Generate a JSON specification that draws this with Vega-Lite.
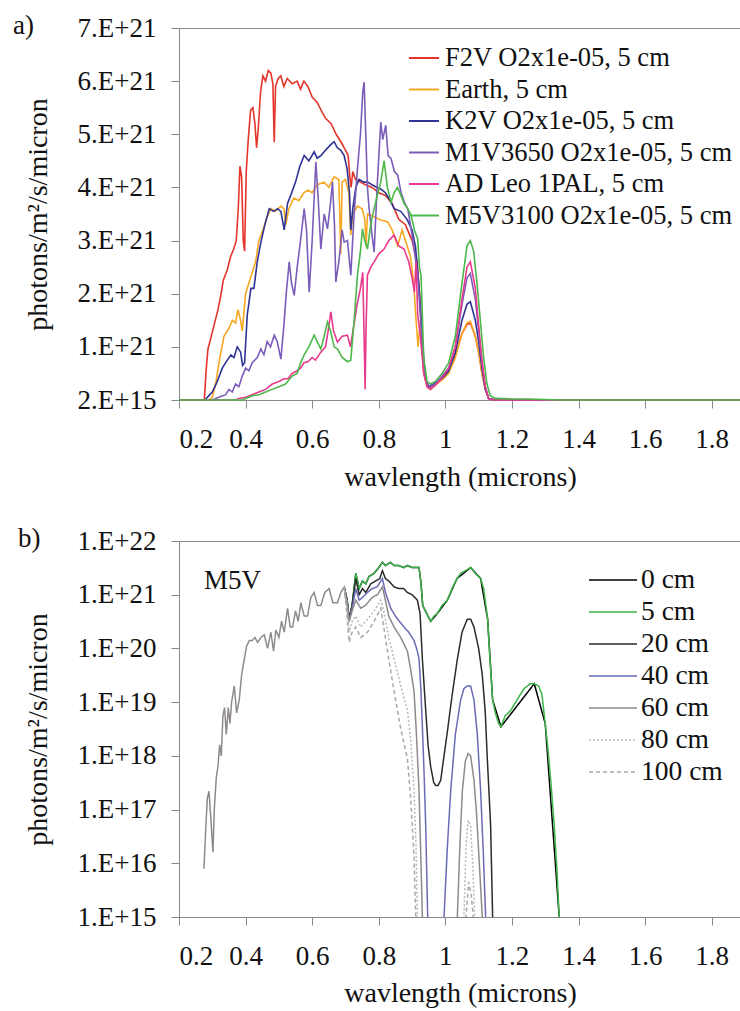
{
"$schema": "https://vega.github.io/schema/vega-lite/v6.json",
"padding": {"left": 12, "top": 11, "right": 0, "bottom": 0},
"config": {
 "font": "Times New Roman, Liberation Serif, DejaVu Serif, serif",
 "view": {"stroke": "#888888"},
 "axis": {"domainColor": "#888888", "tickColor": "#888888", "tickSize": 8, "labelFont": "Times New Roman, Liberation Serif, DejaVu Serif, serif", "titleFont": "Times New Roman, Liberation Serif, DejaVu Serif, serif", "labelFontSize": 27, "titleFontSize": 28, "titleFontWeight": "normal", "labelColor": "#111111", "titleColor": "#111111", "grid": false},
 "legend": {"labelFont": "Times New Roman, Liberation Serif, DejaVu Serif, serif", "titleFont": "Times New Roman, Liberation Serif, DejaVu Serif, serif", "labelColor": "#111111", "padding": 0, "labelLimit": 500},
 "title": {"font": "Times New Roman, Liberation Serif, DejaVu Serif, serif", "fontSize": 27, "fontWeight": "normal", "anchor": "start", "frame": "group", "color": "#111111"},
 "text": {"font": "Times New Roman, Liberation Serif, DejaVu Serif, serif"}
},
"spacing": 32,
"resolve": {"scale": {"color": "independent", "strokeDash": "independent"}, "legend": {"color": "independent", "strokeDash": "independent"}},
"datasets": {
"a": [
{"star":"F2V O2x1e-05, 5 cm","wl":0.2,"flux":0},{"star":"F2V O2x1e-05, 5 cm","wl":0.276,"flux":0},{"star":"F2V O2x1e-05, 5 cm","wl":0.278,"flux":0.2e21},{"star":"F2V O2x1e-05, 5 cm","wl":0.282,"flux":0.6e21},{"star":"F2V O2x1e-05, 5 cm","wl":0.287,"flux":0.96e21},{"star":"F2V O2x1e-05, 5 cm","wl":0.295,"flux":1.15e21},{"star":"F2V O2x1e-05, 5 cm","wl":0.305,"flux":1.4e21},{"star":"F2V O2x1e-05, 5 cm","wl":0.317,"flux":1.7e21},{"star":"F2V O2x1e-05, 5 cm","wl":0.325,"flux":1.95e21},{"star":"F2V O2x1e-05, 5 cm","wl":0.333,"flux":2.25e21},{"star":"F2V O2x1e-05, 5 cm","wl":0.345,"flux":2.45e21},{"star":"F2V O2x1e-05, 5 cm","wl":0.355,"flux":2.7e21},{"star":"F2V O2x1e-05, 5 cm","wl":0.365,"flux":2.85e21},{"star":"F2V O2x1e-05, 5 cm","wl":0.372,"flux":3.0e21},{"star":"F2V O2x1e-05, 5 cm","wl":0.378,"flux":3.6e21},{"star":"F2V O2x1e-05, 5 cm","wl":0.383,"flux":4.4e21},{"star":"F2V O2x1e-05, 5 cm","wl":0.388,"flux":4.2e21},{"star":"F2V O2x1e-05, 5 cm","wl":0.393,"flux":3.0e21},{"star":"F2V O2x1e-05, 5 cm","wl":0.397,"flux":2.8e21},{"star":"F2V O2x1e-05, 5 cm","wl":0.402,"flux":4.3e21},{"star":"F2V O2x1e-05, 5 cm","wl":0.408,"flux":4.9e21},{"star":"F2V O2x1e-05, 5 cm","wl":0.415,"flux":5.45e21},{"star":"F2V O2x1e-05, 5 cm","wl":0.422,"flux":5.5e21},{"star":"F2V O2x1e-05, 5 cm","wl":0.428,"flux":5.2e21},{"star":"F2V O2x1e-05, 5 cm","wl":0.433,"flux":4.75e21},{"star":"F2V O2x1e-05, 5 cm","wl":0.438,"flux":5.1e21},{"star":"F2V O2x1e-05, 5 cm","wl":0.445,"flux":5.8e21},{"star":"F2V O2x1e-05, 5 cm","wl":0.452,"flux":6.1e21},{"star":"F2V O2x1e-05, 5 cm","wl":0.46,"flux":6.0e21},{"star":"F2V O2x1e-05, 5 cm","wl":0.468,"flux":6.2e21},{"star":"F2V O2x1e-05, 5 cm","wl":0.476,"flux":6.15e21},{"star":"F2V O2x1e-05, 5 cm","wl":0.482,"flux":5.95e21},{"star":"F2V O2x1e-05, 5 cm","wl":0.486,"flux":4.85e21},{"star":"F2V O2x1e-05, 5 cm","wl":0.49,"flux":5.9e21},{"star":"F2V O2x1e-05, 5 cm","wl":0.498,"flux":6.05e21},{"star":"F2V O2x1e-05, 5 cm","wl":0.506,"flux":6.1e21},{"star":"F2V O2x1e-05, 5 cm","wl":0.515,"flux":5.9e21},{"star":"F2V O2x1e-05, 5 cm","wl":0.525,"flux":6.05e21},{"star":"F2V O2x1e-05, 5 cm","wl":0.54,"flux":5.95e21},{"star":"F2V O2x1e-05, 5 cm","wl":0.555,"flux":6.0e21},{"star":"F2V O2x1e-05, 5 cm","wl":0.565,"flux":5.85e21},{"star":"F2V O2x1e-05, 5 cm","wl":0.575,"flux":6.0e21},{"star":"F2V O2x1e-05, 5 cm","wl":0.587,"flux":5.9e21},{"star":"F2V O2x1e-05, 5 cm","wl":0.6,"flux":5.7e21},{"star":"F2V O2x1e-05, 5 cm","wl":0.615,"flux":5.6e21},{"star":"F2V O2x1e-05, 5 cm","wl":0.627,"flux":5.45e21},{"star":"F2V O2x1e-05, 5 cm","wl":0.64,"flux":5.3e21},{"star":"F2V O2x1e-05, 5 cm","wl":0.657,"flux":5.2e21},{"star":"F2V O2x1e-05, 5 cm","wl":0.672,"flux":5.0e21},{"star":"F2V O2x1e-05, 5 cm","wl":0.687,"flux":4.85e21},{"star":"F2V O2x1e-05, 5 cm","wl":0.7,"flux":4.7e21},{"star":"F2V O2x1e-05, 5 cm","wl":0.708,"flux":4.6e21},{"star":"F2V O2x1e-05, 5 cm","wl":0.713,"flux":4.2e21},{"star":"F2V O2x1e-05, 5 cm","wl":0.717,"flux":4.0e21},{"star":"F2V O2x1e-05, 5 cm","wl":0.722,"flux":4.3e21},{"star":"F2V O2x1e-05, 5 cm","wl":0.73,"flux":4.15e21},{"star":"F2V O2x1e-05, 5 cm","wl":0.745,"flux":4.1e21},{"star":"F2V O2x1e-05, 5 cm","wl":0.76,"flux":4.05e21},{"star":"F2V O2x1e-05, 5 cm","wl":0.78,"flux":4.0e21},{"star":"F2V O2x1e-05, 5 cm","wl":0.8,"flux":3.9e21},{"star":"F2V O2x1e-05, 5 cm","wl":0.82,"flux":3.85e21},{"star":"F2V O2x1e-05, 5 cm","wl":0.84,"flux":3.7e21},{"star":"F2V O2x1e-05, 5 cm","wl":0.86,"flux":3.4e21},{"star":"F2V O2x1e-05, 5 cm","wl":0.88,"flux":3.3e21},{"star":"F2V O2x1e-05, 5 cm","wl":0.9,"flux":3.0e21},{"star":"F2V O2x1e-05, 5 cm","wl":0.915,"flux":2.6e21},{"star":"F2V O2x1e-05, 5 cm","wl":0.925,"flux":1.8e21},{"star":"F2V O2x1e-05, 5 cm","wl":0.935,"flux":0.6e21},{"star":"F2V O2x1e-05, 5 cm","wl":0.945,"flux":0.3e21},{"star":"F2V O2x1e-05, 5 cm","wl":0.955,"flux":0.22e21},{"star":"F2V O2x1e-05, 5 cm","wl":0.97,"flux":0.3e21},{"star":"F2V O2x1e-05, 5 cm","wl":0.99,"flux":0.4e21},{"star":"F2V O2x1e-05, 5 cm","wl":1.01,"flux":0.55e21},{"star":"F2V O2x1e-05, 5 cm","wl":1.03,"flux":0.85e21},{"star":"F2V O2x1e-05, 5 cm","wl":1.05,"flux":1.25e21},{"star":"F2V O2x1e-05, 5 cm","wl":1.065,"flux":1.42e21},{"star":"F2V O2x1e-05, 5 cm","wl":1.075,"flux":1.45e21},{"star":"F2V O2x1e-05, 5 cm","wl":1.09,"flux":1.2e21},{"star":"F2V O2x1e-05, 5 cm","wl":1.1,"flux":0.9e21},{"star":"F2V O2x1e-05, 5 cm","wl":1.11,"flux":0.5e21},{"star":"F2V O2x1e-05, 5 cm","wl":1.12,"flux":0.2e21},{"star":"F2V O2x1e-05, 5 cm","wl":1.13,"flux":0.03e21},{"star":"F2V O2x1e-05, 5 cm","wl":1.15,"flux":0},{"star":"F2V O2x1e-05, 5 cm","wl":1.888,"flux":0},
{"star":"Earth, 5 cm","wl":0.2,"flux":0},{"star":"Earth, 5 cm","wl":0.29,"flux":0},{"star":"Earth, 5 cm","wl":0.3,"flux":0.05e21},{"star":"Earth, 5 cm","wl":0.31,"flux":0.3e21},{"star":"Earth, 5 cm","wl":0.32,"flux":0.7e21},{"star":"Earth, 5 cm","wl":0.335,"flux":1.2e21},{"star":"Earth, 5 cm","wl":0.35,"flux":1.35e21},{"star":"Earth, 5 cm","wl":0.36,"flux":1.5e21},{"star":"Earth, 5 cm","wl":0.37,"flux":1.45e21},{"star":"Earth, 5 cm","wl":0.377,"flux":1.7e21},{"star":"Earth, 5 cm","wl":0.385,"flux":1.5e21},{"star":"Earth, 5 cm","wl":0.39,"flux":1.3e21},{"star":"Earth, 5 cm","wl":0.4,"flux":2.0e21},{"star":"Earth, 5 cm","wl":0.41,"flux":2.2e21},{"star":"Earth, 5 cm","wl":0.42,"flux":2.4e21},{"star":"Earth, 5 cm","wl":0.43,"flux":2.6e21},{"star":"Earth, 5 cm","wl":0.44,"flux":3.0e21},{"star":"Earth, 5 cm","wl":0.452,"flux":3.2e21},{"star":"Earth, 5 cm","wl":0.465,"flux":3.45e21},{"star":"Earth, 5 cm","wl":0.476,"flux":3.6e21},{"star":"Earth, 5 cm","wl":0.49,"flux":3.55e21},{"star":"Earth, 5 cm","wl":0.506,"flux":3.65e21},{"star":"Earth, 5 cm","wl":0.515,"flux":3.6e21},{"star":"Earth, 5 cm","wl":0.521,"flux":3.3e21},{"star":"Earth, 5 cm","wl":0.53,"flux":3.6e21},{"star":"Earth, 5 cm","wl":0.545,"flux":3.8e21},{"star":"Earth, 5 cm","wl":0.56,"flux":3.75e21},{"star":"Earth, 5 cm","wl":0.575,"flux":3.9e21},{"star":"Earth, 5 cm","wl":0.587,"flux":3.95e21},{"star":"Earth, 5 cm","wl":0.6,"flux":3.9e21},{"star":"Earth, 5 cm","wl":0.615,"flux":4.05e21},{"star":"Earth, 5 cm","wl":0.636,"flux":4.1e21},{"star":"Earth, 5 cm","wl":0.65,"flux":4.0e21},{"star":"Earth, 5 cm","wl":0.666,"flux":4.2e21},{"star":"Earth, 5 cm","wl":0.68,"flux":4.15e21},{"star":"Earth, 5 cm","wl":0.686,"flux":2.75e21},{"star":"Earth, 5 cm","wl":0.69,"flux":4.1e21},{"star":"Earth, 5 cm","wl":0.7,"flux":4.15e21},{"star":"Earth, 5 cm","wl":0.71,"flux":3.9e21},{"star":"Earth, 5 cm","wl":0.716,"flux":3.1e21},{"star":"Earth, 5 cm","wl":0.722,"flux":3.5e21},{"star":"Earth, 5 cm","wl":0.736,"flux":3.65e21},{"star":"Earth, 5 cm","wl":0.75,"flux":3.6e21},{"star":"Earth, 5 cm","wl":0.758,"flux":3.4e21},{"star":"Earth, 5 cm","wl":0.762,"flux":2.9e21},{"star":"Earth, 5 cm","wl":0.766,"flux":3.5e21},{"star":"Earth, 5 cm","wl":0.786,"flux":3.45e21},{"star":"Earth, 5 cm","wl":0.8,"flux":3.4e21},{"star":"Earth, 5 cm","wl":0.827,"flux":3.35e21},{"star":"Earth, 5 cm","wl":0.84,"flux":3.2e21},{"star":"Earth, 5 cm","wl":0.857,"flux":2.9e21},{"star":"Earth, 5 cm","wl":0.87,"flux":3.2e21},{"star":"Earth, 5 cm","wl":0.88,"flux":3.0e21},{"star":"Earth, 5 cm","wl":0.895,"flux":2.7e21},{"star":"Earth, 5 cm","wl":0.905,"flux":2.2e21},{"star":"Earth, 5 cm","wl":0.912,"flux":1.5e21},{"star":"Earth, 5 cm","wl":0.918,"flux":1.0e21},{"star":"Earth, 5 cm","wl":0.925,"flux":1.5e21},{"star":"Earth, 5 cm","wl":0.935,"flux":0.5e21},{"star":"Earth, 5 cm","wl":0.945,"flux":0.25e21},{"star":"Earth, 5 cm","wl":0.955,"flux":0.2e21},{"star":"Earth, 5 cm","wl":0.97,"flux":0.28e21},{"star":"Earth, 5 cm","wl":0.99,"flux":0.38e21},{"star":"Earth, 5 cm","wl":1.01,"flux":0.5e21},{"star":"Earth, 5 cm","wl":1.03,"flux":0.8e21},{"star":"Earth, 5 cm","wl":1.05,"flux":1.25e21},{"star":"Earth, 5 cm","wl":1.065,"flux":1.45e21},{"star":"Earth, 5 cm","wl":1.075,"flux":1.48e21},{"star":"Earth, 5 cm","wl":1.09,"flux":1.2e21},{"star":"Earth, 5 cm","wl":1.1,"flux":0.9e21},{"star":"Earth, 5 cm","wl":1.11,"flux":0.5e21},{"star":"Earth, 5 cm","wl":1.12,"flux":0.2e21},{"star":"Earth, 5 cm","wl":1.13,"flux":0.03e21},{"star":"Earth, 5 cm","wl":1.15,"flux":0},{"star":"Earth, 5 cm","wl":1.888,"flux":0},
{"star":"K2V O2x1e-05, 5 cm","wl":0.2,"flux":0},{"star":"K2V O2x1e-05, 5 cm","wl":0.278,"flux":0},{"star":"K2V O2x1e-05, 5 cm","wl":0.285,"flux":0.05e21},{"star":"K2V O2x1e-05, 5 cm","wl":0.3,"flux":0.15e21},{"star":"K2V O2x1e-05, 5 cm","wl":0.315,"flux":0.35e21},{"star":"K2V O2x1e-05, 5 cm","wl":0.33,"flux":0.6e21},{"star":"K2V O2x1e-05, 5 cm","wl":0.345,"flux":0.75e21},{"star":"K2V O2x1e-05, 5 cm","wl":0.356,"flux":0.85e21},{"star":"K2V O2x1e-05, 5 cm","wl":0.365,"flux":0.8e21},{"star":"K2V O2x1e-05, 5 cm","wl":0.375,"flux":1.0e21},{"star":"K2V O2x1e-05, 5 cm","wl":0.385,"flux":0.9e21},{"star":"K2V O2x1e-05, 5 cm","wl":0.391,"flux":0.65e21},{"star":"K2V O2x1e-05, 5 cm","wl":0.397,"flux":0.7e21},{"star":"K2V O2x1e-05, 5 cm","wl":0.405,"flux":1.6e21},{"star":"K2V O2x1e-05, 5 cm","wl":0.416,"flux":2.1e21},{"star":"K2V O2x1e-05, 5 cm","wl":0.425,"flux":2.1e21},{"star":"K2V O2x1e-05, 5 cm","wl":0.435,"flux":2.6e21},{"star":"K2V O2x1e-05, 5 cm","wl":0.446,"flux":2.97e21},{"star":"K2V O2x1e-05, 5 cm","wl":0.458,"flux":3.3e21},{"star":"K2V O2x1e-05, 5 cm","wl":0.471,"flux":3.6e21},{"star":"K2V O2x1e-05, 5 cm","wl":0.484,"flux":3.55e21},{"star":"K2V O2x1e-05, 5 cm","wl":0.496,"flux":3.6e21},{"star":"K2V O2x1e-05, 5 cm","wl":0.506,"flux":3.55e21},{"star":"K2V O2x1e-05, 5 cm","wl":0.516,"flux":3.2e21},{"star":"K2V O2x1e-05, 5 cm","wl":0.526,"flux":3.7e21},{"star":"K2V O2x1e-05, 5 cm","wl":0.536,"flux":3.86e21},{"star":"K2V O2x1e-05, 5 cm","wl":0.55,"flux":4.1e21},{"star":"K2V O2x1e-05, 5 cm","wl":0.563,"flux":4.4e21},{"star":"K2V O2x1e-05, 5 cm","wl":0.576,"flux":4.6e21},{"star":"K2V O2x1e-05, 5 cm","wl":0.59,"flux":4.5e21},{"star":"K2V O2x1e-05, 5 cm","wl":0.606,"flux":4.67e21},{"star":"K2V O2x1e-05, 5 cm","wl":0.615,"flux":4.55e21},{"star":"K2V O2x1e-05, 5 cm","wl":0.626,"flux":4.6e21},{"star":"K2V O2x1e-05, 5 cm","wl":0.64,"flux":4.7e21},{"star":"K2V O2x1e-05, 5 cm","wl":0.655,"flux":4.8e21},{"star":"K2V O2x1e-05, 5 cm","wl":0.666,"flux":4.86e21},{"star":"K2V O2x1e-05, 5 cm","wl":0.675,"flux":4.75e21},{"star":"K2V O2x1e-05, 5 cm","wl":0.686,"flux":4.7e21},{"star":"K2V O2x1e-05, 5 cm","wl":0.696,"flux":4.6e21},{"star":"K2V O2x1e-05, 5 cm","wl":0.705,"flux":4.35e21},{"star":"K2V O2x1e-05, 5 cm","wl":0.712,"flux":3.9e21},{"star":"K2V O2x1e-05, 5 cm","wl":0.716,"flux":3.2e21},{"star":"K2V O2x1e-05, 5 cm","wl":0.722,"flux":3.6e21},{"star":"K2V O2x1e-05, 5 cm","wl":0.731,"flux":4.0e21},{"star":"K2V O2x1e-05, 5 cm","wl":0.741,"flux":4.15e21},{"star":"K2V O2x1e-05, 5 cm","wl":0.755,"flux":4.1e21},{"star":"K2V O2x1e-05, 5 cm","wl":0.766,"flux":4.1e21},{"star":"K2V O2x1e-05, 5 cm","wl":0.78,"flux":4.05e21},{"star":"K2V O2x1e-05, 5 cm","wl":0.795,"flux":4.0e21},{"star":"K2V O2x1e-05, 5 cm","wl":0.806,"flux":3.97e21},{"star":"K2V O2x1e-05, 5 cm","wl":0.82,"flux":3.9e21},{"star":"K2V O2x1e-05, 5 cm","wl":0.835,"flux":3.75e21},{"star":"K2V O2x1e-05, 5 cm","wl":0.846,"flux":3.6e21},{"star":"K2V O2x1e-05, 5 cm","wl":0.866,"flux":3.55e21},{"star":"K2V O2x1e-05, 5 cm","wl":0.885,"flux":3.4e21},{"star":"K2V O2x1e-05, 5 cm","wl":0.9,"flux":3.2e21},{"star":"K2V O2x1e-05, 5 cm","wl":0.91,"flux":2.9e21},{"star":"K2V O2x1e-05, 5 cm","wl":0.92,"flux":2.2e21},{"star":"K2V O2x1e-05, 5 cm","wl":0.93,"flux":1.2e21},{"star":"K2V O2x1e-05, 5 cm","wl":0.94,"flux":0.4e21},{"star":"K2V O2x1e-05, 5 cm","wl":0.95,"flux":0.25e21},{"star":"K2V O2x1e-05, 5 cm","wl":0.965,"flux":0.3e21},{"star":"K2V O2x1e-05, 5 cm","wl":0.99,"flux":0.4e21},{"star":"K2V O2x1e-05, 5 cm","wl":1.01,"flux":0.55e21},{"star":"K2V O2x1e-05, 5 cm","wl":1.03,"flux":0.9e21},{"star":"K2V O2x1e-05, 5 cm","wl":1.05,"flux":1.5e21},{"star":"K2V O2x1e-05, 5 cm","wl":1.065,"flux":1.8e21},{"star":"K2V O2x1e-05, 5 cm","wl":1.075,"flux":1.85e21},{"star":"K2V O2x1e-05, 5 cm","wl":1.09,"flux":1.5e21},{"star":"K2V O2x1e-05, 5 cm","wl":1.1,"flux":1.1e21},{"star":"K2V O2x1e-05, 5 cm","wl":1.11,"flux":0.6e21},{"star":"K2V O2x1e-05, 5 cm","wl":1.12,"flux":0.2e21},{"star":"K2V O2x1e-05, 5 cm","wl":1.13,"flux":0.03e21},{"star":"K2V O2x1e-05, 5 cm","wl":1.15,"flux":0},{"star":"K2V O2x1e-05, 5 cm","wl":1.888,"flux":0},
{"star":"M1V3650 O2x1e-05, 5 cm","wl":0.2,"flux":0},{"star":"M1V3650 O2x1e-05, 5 cm","wl":0.3,"flux":0},{"star":"M1V3650 O2x1e-05, 5 cm","wl":0.32,"flux":0.05e21},{"star":"M1V3650 O2x1e-05, 5 cm","wl":0.34,"flux":0.1e21},{"star":"M1V3650 O2x1e-05, 5 cm","wl":0.35,"flux":0.2e21},{"star":"M1V3650 O2x1e-05, 5 cm","wl":0.36,"flux":0.15e21},{"star":"M1V3650 O2x1e-05, 5 cm","wl":0.37,"flux":0.3e21},{"star":"M1V3650 O2x1e-05, 5 cm","wl":0.38,"flux":0.25e21},{"star":"M1V3650 O2x1e-05, 5 cm","wl":0.39,"flux":0.45e21},{"star":"M1V3650 O2x1e-05, 5 cm","wl":0.4,"flux":0.6e21},{"star":"M1V3650 O2x1e-05, 5 cm","wl":0.41,"flux":0.55e21},{"star":"M1V3650 O2x1e-05, 5 cm","wl":0.42,"flux":0.7e21},{"star":"M1V3650 O2x1e-05, 5 cm","wl":0.435,"flux":0.8e21},{"star":"M1V3650 O2x1e-05, 5 cm","wl":0.446,"flux":0.96e21},{"star":"M1V3650 O2x1e-05, 5 cm","wl":0.455,"flux":0.85e21},{"star":"M1V3650 O2x1e-05, 5 cm","wl":0.465,"flux":1.1e21},{"star":"M1V3650 O2x1e-05, 5 cm","wl":0.475,"flux":1.0e21},{"star":"M1V3650 O2x1e-05, 5 cm","wl":0.486,"flux":1.22e21},{"star":"M1V3650 O2x1e-05, 5 cm","wl":0.495,"flux":1.1e21},{"star":"M1V3650 O2x1e-05, 5 cm","wl":0.506,"flux":0.77e21},{"star":"M1V3650 O2x1e-05, 5 cm","wl":0.515,"flux":1.4e21},{"star":"M1V3650 O2x1e-05, 5 cm","wl":0.522,"flux":2.0e21},{"star":"M1V3650 O2x1e-05, 5 cm","wl":0.531,"flux":2.6e21},{"star":"M1V3650 O2x1e-05, 5 cm","wl":0.538,"flux":2.2e21},{"star":"M1V3650 O2x1e-05, 5 cm","wl":0.546,"flux":1.97e21},{"star":"M1V3650 O2x1e-05, 5 cm","wl":0.555,"flux":2.5e21},{"star":"M1V3650 O2x1e-05, 5 cm","wl":0.565,"flux":3.0e21},{"star":"M1V3650 O2x1e-05, 5 cm","wl":0.576,"flux":3.6e21},{"star":"M1V3650 O2x1e-05, 5 cm","wl":0.583,"flux":3.2e21},{"star":"M1V3650 O2x1e-05, 5 cm","wl":0.591,"flux":2.03e21},{"star":"M1V3650 O2x1e-05, 5 cm","wl":0.6,"flux":3.0e21},{"star":"M1V3650 O2x1e-05, 5 cm","wl":0.611,"flux":4.48e21},{"star":"M1V3650 O2x1e-05, 5 cm","wl":0.618,"flux":3.8e21},{"star":"M1V3650 O2x1e-05, 5 cm","wl":0.626,"flux":2.84e21},{"star":"M1V3650 O2x1e-05, 5 cm","wl":0.636,"flux":3.5e21},{"star":"M1V3650 O2x1e-05, 5 cm","wl":0.646,"flux":3.22e21},{"star":"M1V3650 O2x1e-05, 5 cm","wl":0.655,"flux":3.7e21},{"star":"M1V3650 O2x1e-05, 5 cm","wl":0.661,"flux":4.1e21},{"star":"M1V3650 O2x1e-05, 5 cm","wl":0.667,"flux":3.3e21},{"star":"M1V3650 O2x1e-05, 5 cm","wl":0.671,"flux":2.22e21},{"star":"M1V3650 O2x1e-05, 5 cm","wl":0.68,"flux":2.6e21},{"star":"M1V3650 O2x1e-05, 5 cm","wl":0.69,"flux":3.2e21},{"star":"M1V3650 O2x1e-05, 5 cm","wl":0.696,"flux":2.97e21},{"star":"M1V3650 O2x1e-05, 5 cm","wl":0.706,"flux":3.0e21},{"star":"M1V3650 O2x1e-05, 5 cm","wl":0.716,"flux":2.35e21},{"star":"M1V3650 O2x1e-05, 5 cm","wl":0.726,"flux":3.5e21},{"star":"M1V3650 O2x1e-05, 5 cm","wl":0.736,"flux":4.35e21},{"star":"M1V3650 O2x1e-05, 5 cm","wl":0.745,"flux":5.0e21},{"star":"M1V3650 O2x1e-05, 5 cm","wl":0.752,"flux":5.8e21},{"star":"M1V3650 O2x1e-05, 5 cm","wl":0.756,"flux":5.98e21},{"star":"M1V3650 O2x1e-05, 5 cm","wl":0.761,"flux":5.0e21},{"star":"M1V3650 O2x1e-05, 5 cm","wl":0.766,"flux":4.0e21},{"star":"M1V3650 O2x1e-05, 5 cm","wl":0.771,"flux":3.6e21},{"star":"M1V3650 O2x1e-05, 5 cm","wl":0.778,"flux":3.2e21},{"star":"M1V3650 O2x1e-05, 5 cm","wl":0.786,"flux":2.78e21},{"star":"M1V3650 O2x1e-05, 5 cm","wl":0.795,"flux":4.0e21},{"star":"M1V3650 O2x1e-05, 5 cm","wl":0.806,"flux":5.23e21},{"star":"M1V3650 O2x1e-05, 5 cm","wl":0.812,"flux":4.9e21},{"star":"M1V3650 O2x1e-05, 5 cm","wl":0.821,"flux":5.17e21},{"star":"M1V3650 O2x1e-05, 5 cm","wl":0.828,"flux":4.6e21},{"star":"M1V3650 O2x1e-05, 5 cm","wl":0.837,"flux":4.54e21},{"star":"M1V3650 O2x1e-05, 5 cm","wl":0.847,"flux":4.3e21},{"star":"M1V3650 O2x1e-05, 5 cm","wl":0.857,"flux":4.23e21},{"star":"M1V3650 O2x1e-05, 5 cm","wl":0.867,"flux":3.9e21},{"star":"M1V3650 O2x1e-05, 5 cm","wl":0.877,"flux":3.72e21},{"star":"M1V3650 O2x1e-05, 5 cm","wl":0.887,"flux":3.6e21},{"star":"M1V3650 O2x1e-05, 5 cm","wl":0.897,"flux":3.22e21},{"star":"M1V3650 O2x1e-05, 5 cm","wl":0.907,"flux":2.8e21},{"star":"M1V3650 O2x1e-05, 5 cm","wl":0.917,"flux":2.35e21},{"star":"M1V3650 O2x1e-05, 5 cm","wl":0.925,"flux":1.6e21},{"star":"M1V3650 O2x1e-05, 5 cm","wl":0.935,"flux":0.6e21},{"star":"M1V3650 O2x1e-05, 5 cm","wl":0.945,"flux":0.3e21},{"star":"M1V3650 O2x1e-05, 5 cm","wl":0.955,"flux":0.25e21},{"star":"M1V3650 O2x1e-05, 5 cm","wl":0.97,"flux":0.3e21},{"star":"M1V3650 O2x1e-05, 5 cm","wl":0.99,"flux":0.45e21},{"star":"M1V3650 O2x1e-05, 5 cm","wl":1.01,"flux":0.6e21},{"star":"M1V3650 O2x1e-05, 5 cm","wl":1.03,"flux":1.0e21},{"star":"M1V3650 O2x1e-05, 5 cm","wl":1.05,"flux":1.8e21},{"star":"M1V3650 O2x1e-05, 5 cm","wl":1.065,"flux":2.3e21},{"star":"M1V3650 O2x1e-05, 5 cm","wl":1.075,"flux":2.38e21},{"star":"M1V3650 O2x1e-05, 5 cm","wl":1.09,"flux":1.9e21},{"star":"M1V3650 O2x1e-05, 5 cm","wl":1.1,"flux":1.3e21},{"star":"M1V3650 O2x1e-05, 5 cm","wl":1.11,"flux":0.7e21},{"star":"M1V3650 O2x1e-05, 5 cm","wl":1.12,"flux":0.25e21},{"star":"M1V3650 O2x1e-05, 5 cm","wl":1.13,"flux":0.03e21},{"star":"M1V3650 O2x1e-05, 5 cm","wl":1.15,"flux":0},{"star":"M1V3650 O2x1e-05, 5 cm","wl":1.888,"flux":0},
{"star":"AD Leo 1PAL, 5 cm","wl":0.2,"flux":0},{"star":"AD Leo 1PAL, 5 cm","wl":0.37,"flux":0},{"star":"AD Leo 1PAL, 5 cm","wl":0.38,"flux":0.03e21},{"star":"AD Leo 1PAL, 5 cm","wl":0.4,"flux":0.05e21},{"star":"AD Leo 1PAL, 5 cm","wl":0.42,"flux":0.1e21},{"star":"AD Leo 1PAL, 5 cm","wl":0.44,"flux":0.15e21},{"star":"AD Leo 1PAL, 5 cm","wl":0.46,"flux":0.2e21},{"star":"AD Leo 1PAL, 5 cm","wl":0.48,"flux":0.3e21},{"star":"AD Leo 1PAL, 5 cm","wl":0.5,"flux":0.35e21},{"star":"AD Leo 1PAL, 5 cm","wl":0.515,"flux":0.4e21},{"star":"AD Leo 1PAL, 5 cm","wl":0.527,"flux":0.4e21},{"star":"AD Leo 1PAL, 5 cm","wl":0.54,"flux":0.5e21},{"star":"AD Leo 1PAL, 5 cm","wl":0.555,"flux":0.55e21},{"star":"AD Leo 1PAL, 5 cm","wl":0.565,"flux":0.6e21},{"star":"AD Leo 1PAL, 5 cm","wl":0.575,"flux":0.7e21},{"star":"AD Leo 1PAL, 5 cm","wl":0.587,"flux":0.72e21},{"star":"AD Leo 1PAL, 5 cm","wl":0.6,"flux":0.8e21},{"star":"AD Leo 1PAL, 5 cm","wl":0.61,"flux":0.75e21},{"star":"AD Leo 1PAL, 5 cm","wl":0.626,"flux":0.9e21},{"star":"AD Leo 1PAL, 5 cm","wl":0.64,"flux":1.0e21},{"star":"AD Leo 1PAL, 5 cm","wl":0.648,"flux":1.3e21},{"star":"AD Leo 1PAL, 5 cm","wl":0.656,"flux":1.66e21},{"star":"AD Leo 1PAL, 5 cm","wl":0.664,"flux":1.3e21},{"star":"AD Leo 1PAL, 5 cm","wl":0.676,"flux":1.09e21},{"star":"AD Leo 1PAL, 5 cm","wl":0.69,"flux":1.2e21},{"star":"AD Leo 1PAL, 5 cm","wl":0.706,"flux":1.22e21},{"star":"AD Leo 1PAL, 5 cm","wl":0.715,"flux":1.0e21},{"star":"AD Leo 1PAL, 5 cm","wl":0.725,"flux":1.4e21},{"star":"AD Leo 1PAL, 5 cm","wl":0.735,"flux":1.8e21},{"star":"AD Leo 1PAL, 5 cm","wl":0.745,"flux":2.1e21},{"star":"AD Leo 1PAL, 5 cm","wl":0.752,"flux":2.4e21},{"star":"AD Leo 1PAL, 5 cm","wl":0.756,"flux":1.2e21},{"star":"AD Leo 1PAL, 5 cm","wl":0.759,"flux":0.2e21},{"star":"AD Leo 1PAL, 5 cm","wl":0.762,"flux":1.4e21},{"star":"AD Leo 1PAL, 5 cm","wl":0.766,"flux":2.35e21},{"star":"AD Leo 1PAL, 5 cm","wl":0.776,"flux":2.5e21},{"star":"AD Leo 1PAL, 5 cm","wl":0.786,"flux":2.6e21},{"star":"AD Leo 1PAL, 5 cm","wl":0.8,"flux":2.75e21},{"star":"AD Leo 1PAL, 5 cm","wl":0.816,"flux":2.84e21},{"star":"AD Leo 1PAL, 5 cm","wl":0.83,"flux":3.0e21},{"star":"AD Leo 1PAL, 5 cm","wl":0.846,"flux":3.1e21},{"star":"AD Leo 1PAL, 5 cm","wl":0.86,"flux":2.9e21},{"star":"AD Leo 1PAL, 5 cm","wl":0.876,"flux":2.84e21},{"star":"AD Leo 1PAL, 5 cm","wl":0.89,"flux":2.6e21},{"star":"AD Leo 1PAL, 5 cm","wl":0.9,"flux":2.3e21},{"star":"AD Leo 1PAL, 5 cm","wl":0.907,"flux":2.03e21},{"star":"AD Leo 1PAL, 5 cm","wl":0.912,"flux":2.6e21},{"star":"AD Leo 1PAL, 5 cm","wl":0.917,"flux":1.6e21},{"star":"AD Leo 1PAL, 5 cm","wl":0.925,"flux":1.2e21},{"star":"AD Leo 1PAL, 5 cm","wl":0.935,"flux":0.5e21},{"star":"AD Leo 1PAL, 5 cm","wl":0.945,"flux":0.25e21},{"star":"AD Leo 1PAL, 5 cm","wl":0.955,"flux":0.2e21},{"star":"AD Leo 1PAL, 5 cm","wl":0.97,"flux":0.28e21},{"star":"AD Leo 1PAL, 5 cm","wl":0.99,"flux":0.42e21},{"star":"AD Leo 1PAL, 5 cm","wl":1.01,"flux":0.6e21},{"star":"AD Leo 1PAL, 5 cm","wl":1.03,"flux":1.0e21},{"star":"AD Leo 1PAL, 5 cm","wl":1.05,"flux":1.9e21},{"star":"AD Leo 1PAL, 5 cm","wl":1.065,"flux":2.5e21},{"star":"AD Leo 1PAL, 5 cm","wl":1.075,"flux":2.6e21},{"star":"AD Leo 1PAL, 5 cm","wl":1.09,"flux":2.1e21},{"star":"AD Leo 1PAL, 5 cm","wl":1.1,"flux":1.4e21},{"star":"AD Leo 1PAL, 5 cm","wl":1.11,"flux":0.75e21},{"star":"AD Leo 1PAL, 5 cm","wl":1.12,"flux":0.25e21},{"star":"AD Leo 1PAL, 5 cm","wl":1.13,"flux":0.02e21},{"star":"AD Leo 1PAL, 5 cm","wl":1.15,"flux":0},{"star":"AD Leo 1PAL, 5 cm","wl":1.888,"flux":0},
{"star":"M5V3100 O2x1e-05, 5 cm","wl":0.2,"flux":0},{"star":"M5V3100 O2x1e-05, 5 cm","wl":0.39,"flux":0},{"star":"M5V3100 O2x1e-05, 5 cm","wl":0.4,"flux":0.03e21},{"star":"M5V3100 O2x1e-05, 5 cm","wl":0.42,"flux":0.08e21},{"star":"M5V3100 O2x1e-05, 5 cm","wl":0.44,"flux":0.1e21},{"star":"M5V3100 O2x1e-05, 5 cm","wl":0.46,"flux":0.15e21},{"star":"M5V3100 O2x1e-05, 5 cm","wl":0.48,"flux":0.2e21},{"star":"M5V3100 O2x1e-05, 5 cm","wl":0.5,"flux":0.25e21},{"star":"M5V3100 O2x1e-05, 5 cm","wl":0.52,"flux":0.3e21},{"star":"M5V3100 O2x1e-05, 5 cm","wl":0.54,"flux":0.45e21},{"star":"M5V3100 O2x1e-05, 5 cm","wl":0.555,"flux":0.5e21},{"star":"M5V3100 O2x1e-05, 5 cm","wl":0.565,"flux":0.7e21},{"star":"M5V3100 O2x1e-05, 5 cm","wl":0.576,"flux":0.85e21},{"star":"M5V3100 O2x1e-05, 5 cm","wl":0.59,"flux":1.0e21},{"star":"M5V3100 O2x1e-05, 5 cm","wl":0.606,"flux":1.22e21},{"star":"M5V3100 O2x1e-05, 5 cm","wl":0.615,"flux":1.1e21},{"star":"M5V3100 O2x1e-05, 5 cm","wl":0.626,"flux":0.96e21},{"star":"M5V3100 O2x1e-05, 5 cm","wl":0.636,"flux":1.2e21},{"star":"M5V3100 O2x1e-05, 5 cm","wl":0.646,"flux":1.47e21},{"star":"M5V3100 O2x1e-05, 5 cm","wl":0.655,"flux":1.3e21},{"star":"M5V3100 O2x1e-05, 5 cm","wl":0.666,"flux":1.0e21},{"star":"M5V3100 O2x1e-05, 5 cm","wl":0.676,"flux":0.96e21},{"star":"M5V3100 O2x1e-05, 5 cm","wl":0.69,"flux":0.8e21},{"star":"M5V3100 O2x1e-05, 5 cm","wl":0.706,"flux":0.72e21},{"star":"M5V3100 O2x1e-05, 5 cm","wl":0.716,"flux":0.75e21},{"star":"M5V3100 O2x1e-05, 5 cm","wl":0.726,"flux":1.5e21},{"star":"M5V3100 O2x1e-05, 5 cm","wl":0.736,"flux":2.35e21},{"star":"M5V3100 O2x1e-05, 5 cm","wl":0.745,"flux":2.8e21},{"star":"M5V3100 O2x1e-05, 5 cm","wl":0.751,"flux":3.22e21},{"star":"M5V3100 O2x1e-05, 5 cm","wl":0.758,"flux":3.0e21},{"star":"M5V3100 O2x1e-05, 5 cm","wl":0.766,"flux":2.84e21},{"star":"M5V3100 O2x1e-05, 5 cm","wl":0.776,"flux":3.3e21},{"star":"M5V3100 O2x1e-05, 5 cm","wl":0.786,"flux":3.6e21},{"star":"M5V3100 O2x1e-05, 5 cm","wl":0.796,"flux":3.86e21},{"star":"M5V3100 O2x1e-05, 5 cm","wl":0.806,"flux":4.1e21},{"star":"M5V3100 O2x1e-05, 5 cm","wl":0.816,"flux":4.5e21},{"star":"M5V3100 O2x1e-05, 5 cm","wl":0.826,"flux":4.0e21},{"star":"M5V3100 O2x1e-05, 5 cm","wl":0.837,"flux":3.72e21},{"star":"M5V3100 O2x1e-05, 5 cm","wl":0.846,"flux":3.9e21},{"star":"M5V3100 O2x1e-05, 5 cm","wl":0.856,"flux":4.0e21},{"star":"M5V3100 O2x1e-05, 5 cm","wl":0.866,"flux":3.86e21},{"star":"M5V3100 O2x1e-05, 5 cm","wl":0.876,"flux":3.7e21},{"star":"M5V3100 O2x1e-05, 5 cm","wl":0.887,"flux":3.6e21},{"star":"M5V3100 O2x1e-05, 5 cm","wl":0.897,"flux":3.48e21},{"star":"M5V3100 O2x1e-05, 5 cm","wl":0.907,"flux":3.2e21},{"star":"M5V3100 O2x1e-05, 5 cm","wl":0.917,"flux":3.03e21},{"star":"M5V3100 O2x1e-05, 5 cm","wl":0.922,"flux":2.5e21},{"star":"M5V3100 O2x1e-05, 5 cm","wl":0.927,"flux":2.35e21},{"star":"M5V3100 O2x1e-05, 5 cm","wl":0.935,"flux":0.8e21},{"star":"M5V3100 O2x1e-05, 5 cm","wl":0.945,"flux":0.35e21},{"star":"M5V3100 O2x1e-05, 5 cm","wl":0.955,"flux":0.3e21},{"star":"M5V3100 O2x1e-05, 5 cm","wl":0.97,"flux":0.35e21},{"star":"M5V3100 O2x1e-05, 5 cm","wl":0.99,"flux":0.5e21},{"star":"M5V3100 O2x1e-05, 5 cm","wl":1.01,"flux":0.7e21},{"star":"M5V3100 O2x1e-05, 5 cm","wl":1.03,"flux":1.2e21},{"star":"M5V3100 O2x1e-05, 5 cm","wl":1.05,"flux":2.2e21},{"star":"M5V3100 O2x1e-05, 5 cm","wl":1.065,"flux":2.9e21},{"star":"M5V3100 O2x1e-05, 5 cm","wl":1.075,"flux":3.0e21},{"star":"M5V3100 O2x1e-05, 5 cm","wl":1.085,"flux":2.8e21},{"star":"M5V3100 O2x1e-05, 5 cm","wl":1.095,"flux":2.2e21},{"star":"M5V3100 O2x1e-05, 5 cm","wl":1.105,"flux":1.5e21},{"star":"M5V3100 O2x1e-05, 5 cm","wl":1.115,"flux":0.8e21},{"star":"M5V3100 O2x1e-05, 5 cm","wl":1.125,"flux":0.3e21},{"star":"M5V3100 O2x1e-05, 5 cm","wl":1.135,"flux":0.08e21},{"star":"M5V3100 O2x1e-05, 5 cm","wl":1.15,"flux":0.03e21},{"star":"M5V3100 O2x1e-05, 5 cm","wl":1.2,"flux":0.02e21},{"star":"M5V3100 O2x1e-05, 5 cm","wl":1.25,"flux":0.02e21},{"star":"M5V3100 O2x1e-05, 5 cm","wl":1.3,"flux":0.01e21},{"star":"M5V3100 O2x1e-05, 5 cm","wl":1.35,"flux":0},{"star":"M5V3100 O2x1e-05, 5 cm","wl":1.888,"flux":0}
],
"b": [
{"depth":"0 cm","wl":0.696,"flux":1.4e21},{"depth":"0 cm","wl":0.705,"flux":7.9e20},{"depth":"0 cm","wl":0.711,"flux":3.5e20},{"depth":"0 cm","wl":0.72,"flux":6.3e20},{"depth":"0 cm","wl":0.731,"flux":2.5e21},{"depth":"0 cm","wl":0.741,"flux":1.3e21},{"depth":"0 cm","wl":0.751,"flux":1.8e21},{"depth":"0 cm","wl":0.761,"flux":1.6e21},{"depth":"0 cm","wl":0.771,"flux":2.2e21},{"depth":"0 cm","wl":0.786,"flux":2.5e21},{"depth":"0 cm","wl":0.8,"flux":3.2e21},{"depth":"0 cm","wl":0.811,"flux":4.0e21},{"depth":"0 cm","wl":0.82,"flux":3.5e21},{"depth":"0 cm","wl":0.835,"flux":4.0e21},{"depth":"0 cm","wl":0.846,"flux":3.5e21},{"depth":"0 cm","wl":0.86,"flux":3.5e21},{"depth":"0 cm","wl":0.875,"flux":3.2e21},{"depth":"0 cm","wl":0.886,"flux":3.5e21},{"depth":"0 cm","wl":0.9,"flux":3.2e21},{"depth":"0 cm","wl":0.921,"flux":3.2e21},{"depth":"0 cm","wl":0.927,"flux":1.6e21},{"depth":"0 cm","wl":0.932,"flux":6.3e20},{"depth":"0 cm","wl":0.94,"flux":5.0e20},{"depth":"0 cm","wl":0.956,"flux":3.2e20},{"depth":"0 cm","wl":0.976,"flux":4.5e20},{"depth":"0 cm","wl":1.006,"flux":7.9e20},{"depth":"0 cm","wl":1.035,"flux":2.0e21},{"depth":"0 cm","wl":1.076,"flux":3.2e21},{"depth":"0 cm","wl":1.106,"flux":2.0e21},{"depth":"0 cm","wl":1.127,"flux":3.5e20},{"depth":"0 cm","wl":1.142,"flux":1.1e19},{"depth":"0 cm","wl":1.167,"flux":3.5e18},{"depth":"0 cm","wl":1.267,"flux":2.2e19},{"depth":"0 cm","wl":1.3,"flux":4.0e18},{"depth":"0 cm","wl":1.342,"flux":1e15},{"depth":"0 cm","wl":1.35,"flux":1e14},
{"depth":"5 cm","wl":0.696,"flux":1.4e21},{"depth":"5 cm","wl":0.705,"flux":7.9e20},{"depth":"5 cm","wl":0.711,"flux":3.5e20},{"depth":"5 cm","wl":0.72,"flux":6.3e20},{"depth":"5 cm","wl":0.731,"flux":2.5e21},{"depth":"5 cm","wl":0.741,"flux":1.3e21},{"depth":"5 cm","wl":0.751,"flux":1.8e21},{"depth":"5 cm","wl":0.761,"flux":1.6e21},{"depth":"5 cm","wl":0.771,"flux":2.2e21},{"depth":"5 cm","wl":0.786,"flux":2.5e21},{"depth":"5 cm","wl":0.8,"flux":3.2e21},{"depth":"5 cm","wl":0.811,"flux":4.0e21},{"depth":"5 cm","wl":0.82,"flux":3.5e21},{"depth":"5 cm","wl":0.835,"flux":4.0e21},{"depth":"5 cm","wl":0.846,"flux":3.5e21},{"depth":"5 cm","wl":0.86,"flux":3.5e21},{"depth":"5 cm","wl":0.875,"flux":3.2e21},{"depth":"5 cm","wl":0.886,"flux":3.5e21},{"depth":"5 cm","wl":0.9,"flux":3.2e21},{"depth":"5 cm","wl":0.91,"flux":3.2e21},{"depth":"5 cm","wl":0.921,"flux":3.2e21},{"depth":"5 cm","wl":0.927,"flux":1.6e21},{"depth":"5 cm","wl":0.932,"flux":6.3e20},{"depth":"5 cm","wl":0.94,"flux":5.0e20},{"depth":"5 cm","wl":0.956,"flux":3.2e20},{"depth":"5 cm","wl":0.966,"flux":4.0e20},{"depth":"5 cm","wl":0.976,"flux":4.5e20},{"depth":"5 cm","wl":0.99,"flux":6.3e20},{"depth":"5 cm","wl":1.006,"flux":7.9e20},{"depth":"5 cm","wl":1.02,"flux":1.3e21},{"depth":"5 cm","wl":1.035,"flux":2.0e21},{"depth":"5 cm","wl":1.046,"flux":2.5e21},{"depth":"5 cm","wl":1.06,"flux":2.8e21},{"depth":"5 cm","wl":1.076,"flux":3.2e21},{"depth":"5 cm","wl":1.09,"flux":2.5e21},{"depth":"5 cm","wl":1.106,"flux":2.0e21},{"depth":"5 cm","wl":1.115,"flux":1.3e21},{"depth":"5 cm","wl":1.122,"flux":6.3e20},{"depth":"5 cm","wl":1.127,"flux":3.5e20},{"depth":"5 cm","wl":1.133,"flux":7.9e19},{"depth":"5 cm","wl":1.142,"flux":1.1e19},{"depth":"5 cm","wl":1.15,"flux":6.3e18},{"depth":"5 cm","wl":1.16,"flux":4.0e18},{"depth":"5 cm","wl":1.167,"flux":3.5e18},{"depth":"5 cm","wl":1.18,"flux":5.6e18},{"depth":"5 cm","wl":1.197,"flux":7.1e18},{"depth":"5 cm","wl":1.215,"flux":1.1e19},{"depth":"5 cm","wl":1.237,"flux":1.8e19},{"depth":"5 cm","wl":1.255,"flux":2.2e19},{"depth":"5 cm","wl":1.267,"flux":2.2e19},{"depth":"5 cm","wl":1.28,"flux":2.0e19},{"depth":"5 cm","wl":1.29,"flux":1.4e19},{"depth":"5 cm","wl":1.3,"flux":4.0e18},{"depth":"5 cm","wl":1.307,"flux":1.6e18},{"depth":"5 cm","wl":1.317,"flux":3.2e17},{"depth":"5 cm","wl":1.327,"flux":5.0e16},{"depth":"5 cm","wl":1.335,"flux":7.9e15},{"depth":"5 cm","wl":1.342,"flux":1e15},{"depth":"5 cm","wl":1.35,"flux":1e14},
{"depth":"20 cm","wl":0.696,"flux":1.4e21},{"depth":"20 cm","wl":0.705,"flux":7.9e20},{"depth":"20 cm","wl":0.711,"flux":3.5e20},{"depth":"20 cm","wl":0.72,"flux":6.3e20},{"depth":"20 cm","wl":0.731,"flux":2.0e21},{"depth":"20 cm","wl":0.741,"flux":1e21},{"depth":"20 cm","wl":0.751,"flux":1.3e21},{"depth":"20 cm","wl":0.761,"flux":1.1e21},{"depth":"20 cm","wl":0.776,"flux":1.6e21},{"depth":"20 cm","wl":0.79,"flux":1.8e21},{"depth":"20 cm","wl":0.803,"flux":2.0e21},{"depth":"20 cm","wl":0.811,"flux":2.8e21},{"depth":"20 cm","wl":0.82,"flux":2.0e21},{"depth":"20 cm","wl":0.83,"flux":1.8e21},{"depth":"20 cm","wl":0.846,"flux":1.4e21},{"depth":"20 cm","wl":0.86,"flux":1.3e21},{"depth":"20 cm","wl":0.875,"flux":1.3e21},{"depth":"20 cm","wl":0.886,"flux":1.1e21},{"depth":"20 cm","wl":0.9,"flux":1e21},{"depth":"20 cm","wl":0.916,"flux":7.9e20},{"depth":"20 cm","wl":0.924,"flux":4.5e20},{"depth":"20 cm","wl":0.931,"flux":6.3e19},{"depth":"20 cm","wl":0.941,"flux":7.1e18},{"depth":"20 cm","wl":0.948,"flux":1.6e18},{"depth":"20 cm","wl":0.956,"flux":6.3e17},{"depth":"20 cm","wl":0.965,"flux":3.2e17},{"depth":"20 cm","wl":0.971,"flux":2.8e17},{"depth":"20 cm","wl":0.978,"flux":2.8e17},{"depth":"20 cm","wl":0.986,"flux":3.5e17},{"depth":"20 cm","wl":0.996,"flux":1e18},{"depth":"20 cm","wl":1.006,"flux":2.8e18},{"depth":"20 cm","wl":1.02,"flux":1.3e19},{"depth":"20 cm","wl":1.036,"flux":6.3e19},{"depth":"20 cm","wl":1.05,"flux":2.0e20},{"depth":"20 cm","wl":1.066,"flux":3.5e20},{"depth":"20 cm","wl":1.076,"flux":3.5e20},{"depth":"20 cm","wl":1.086,"flux":2.5e20},{"depth":"20 cm","wl":1.1,"flux":1e20},{"depth":"20 cm","wl":1.111,"flux":3.2e19},{"depth":"20 cm","wl":1.12,"flux":6.3e18},{"depth":"20 cm","wl":1.126,"flux":8.9e17},{"depth":"20 cm","wl":1.132,"flux":1.6e17},{"depth":"20 cm","wl":1.136,"flux":5.0e16},{"depth":"20 cm","wl":1.142,"flux":1e15},{"depth":"20 cm","wl":1.148,"flux":3.2e13},
{"depth":"40 cm","wl":0.696,"flux":1.4e21},{"depth":"40 cm","wl":0.705,"flux":7.1e20},{"depth":"40 cm","wl":0.711,"flux":3.2e20},{"depth":"40 cm","wl":0.72,"flux":5.6e20},{"depth":"40 cm","wl":0.731,"flux":1.3e21},{"depth":"40 cm","wl":0.741,"flux":7.9e20},{"depth":"40 cm","wl":0.751,"flux":8.9e20},{"depth":"40 cm","wl":0.766,"flux":1.1e21},{"depth":"40 cm","wl":0.78,"flux":1.3e21},{"depth":"40 cm","wl":0.795,"flux":1.4e21},{"depth":"40 cm","wl":0.811,"flux":2.0e21},{"depth":"40 cm","wl":0.82,"flux":1.1e21},{"depth":"40 cm","wl":0.836,"flux":5.6e20},{"depth":"40 cm","wl":0.85,"flux":4.0e20},{"depth":"40 cm","wl":0.862,"flux":3.2e20},{"depth":"40 cm","wl":0.876,"flux":2.5e20},{"depth":"40 cm","wl":0.89,"flux":2.0e20},{"depth":"40 cm","wl":0.906,"flux":1.4e20},{"depth":"40 cm","wl":0.916,"flux":8.9e19},{"depth":"40 cm","wl":0.921,"flux":6.3e19},{"depth":"40 cm","wl":0.926,"flux":2.0e19},{"depth":"40 cm","wl":0.931,"flux":3.5e18},{"depth":"40 cm","wl":0.936,"flux":5.0e17},{"depth":"40 cm","wl":0.941,"flux":5.0e16},{"depth":"40 cm","wl":0.947,"flux":1e15},{"depth":"40 cm","wl":0.952,"flux":3.2e13},{"depth":"40 cm","wl":0.99,"flux":3.2e13},{"depth":"40 cm","wl":0.996,"flux":1e15},{"depth":"40 cm","wl":1.006,"flux":2.0e16},{"depth":"40 cm","wl":1.016,"flux":2.2e17},{"depth":"40 cm","wl":1.03,"flux":2.5e18},{"depth":"40 cm","wl":1.046,"flux":1.1e19},{"depth":"40 cm","wl":1.056,"flux":1.8e19},{"depth":"40 cm","wl":1.066,"flux":2.0e19},{"depth":"40 cm","wl":1.076,"flux":2.0e19},{"depth":"40 cm","wl":1.086,"flux":1.1e19},{"depth":"40 cm","wl":1.096,"flux":2.5e18},{"depth":"40 cm","wl":1.106,"flux":2.2e17},{"depth":"40 cm","wl":1.114,"flux":1.6e16},{"depth":"40 cm","wl":1.121,"flux":1e15},{"depth":"40 cm","wl":1.127,"flux":3.2e13},
{"depth":"60 cm","wl":0.275,"flux":7.9e15},{"depth":"60 cm","wl":0.28,"flux":4.0e16},{"depth":"60 cm","wl":0.285,"flux":1.6e17},{"depth":"60 cm","wl":0.29,"flux":2.2e17},{"depth":"60 cm","wl":0.295,"flux":7.9e16},{"depth":"60 cm","wl":0.302,"flux":1.6e16},{"depth":"60 cm","wl":0.306,"flux":1e17},{"depth":"60 cm","wl":0.312,"flux":4.0e17},{"depth":"60 cm","wl":0.317,"flux":6.3e17},{"depth":"60 cm","wl":0.322,"flux":1.6e18},{"depth":"60 cm","wl":0.327,"flux":1e18},{"depth":"60 cm","wl":0.332,"flux":5.6e18},{"depth":"60 cm","wl":0.337,"flux":7.9e18},{"depth":"60 cm","wl":0.342,"flux":2.5e18},{"depth":"60 cm","wl":0.348,"flux":7.9e18},{"depth":"60 cm","wl":0.353,"flux":4.0e18},{"depth":"60 cm","wl":0.358,"flux":1e19},{"depth":"60 cm","wl":0.366,"flux":2.0e19},{"depth":"60 cm","wl":0.373,"flux":6.3e18},{"depth":"60 cm","wl":0.381,"flux":1.1e19},{"depth":"60 cm","wl":0.388,"flux":3.2e19},{"depth":"60 cm","wl":0.396,"flux":6.3e19},{"depth":"60 cm","wl":0.403,"flux":1.1e20},{"depth":"60 cm","wl":0.411,"flux":1.4e20},{"depth":"60 cm","wl":0.42,"flux":1.4e20},{"depth":"60 cm","wl":0.428,"flux":1.6e20},{"depth":"60 cm","wl":0.436,"flux":1.3e20},{"depth":"60 cm","wl":0.446,"flux":1.6e20},{"depth":"60 cm","wl":0.456,"flux":1.8e20},{"depth":"60 cm","wl":0.466,"flux":1e20},{"depth":"60 cm","wl":0.476,"flux":2.0e20},{"depth":"60 cm","wl":0.484,"flux":8.9e19},{"depth":"60 cm","wl":0.491,"flux":2.2e20},{"depth":"60 cm","wl":0.5,"flux":1.6e20},{"depth":"60 cm","wl":0.508,"flux":3.2e20},{"depth":"60 cm","wl":0.516,"flux":2.0e20},{"depth":"60 cm","wl":0.526,"flux":5.6e20},{"depth":"60 cm","wl":0.534,"flux":2.5e20},{"depth":"60 cm","wl":0.541,"flux":2.5e20},{"depth":"60 cm","wl":0.55,"flux":5.0e20},{"depth":"60 cm","wl":0.558,"flux":3.2e20},{"depth":"60 cm","wl":0.566,"flux":7.1e20},{"depth":"60 cm","wl":0.576,"flux":4.0e20},{"depth":"60 cm","wl":0.586,"flux":4.0e20},{"depth":"60 cm","wl":0.596,"flux":8.9e20},{"depth":"60 cm","wl":0.606,"flux":1.1e21},{"depth":"60 cm","wl":0.616,"flux":6.3e20},{"depth":"60 cm","wl":0.626,"flux":6.3e20},{"depth":"60 cm","wl":0.638,"flux":1.1e21},{"depth":"60 cm","wl":0.651,"flux":1.3e21},{"depth":"60 cm","wl":0.662,"flux":7.1e20},{"depth":"60 cm","wl":0.676,"flux":7.1e20},{"depth":"60 cm","wl":0.686,"flux":1.1e21},{"depth":"60 cm","wl":0.696,"flux":1.4e21},{"depth":"60 cm","wl":0.705,"flux":7.1e20},{"depth":"60 cm","wl":0.711,"flux":3.2e20},{"depth":"60 cm","wl":0.72,"flux":5.0e20},{"depth":"60 cm","wl":0.731,"flux":7.9e20},{"depth":"60 cm","wl":0.746,"flux":5.6e20},{"depth":"60 cm","wl":0.76,"flux":6.3e20},{"depth":"60 cm","wl":0.78,"flux":8.9e20},{"depth":"60 cm","wl":0.796,"flux":1e21},{"depth":"60 cm","wl":0.811,"flux":1.4e21},{"depth":"60 cm","wl":0.82,"flux":7.9e20},{"depth":"60 cm","wl":0.83,"flux":4.0e20},{"depth":"60 cm","wl":0.846,"flux":2.5e20},{"depth":"60 cm","wl":0.866,"flux":1.6e20},{"depth":"60 cm","wl":0.886,"flux":8.9e19},{"depth":"60 cm","wl":0.896,"flux":4.0e19},{"depth":"60 cm","wl":0.906,"flux":1.6e19},{"depth":"60 cm","wl":0.914,"flux":2.0e18},{"depth":"60 cm","wl":0.921,"flux":2.2e17},{"depth":"60 cm","wl":0.926,"flux":1.6e16},{"depth":"60 cm","wl":0.931,"flux":1e15},{"depth":"60 cm","wl":0.936,"flux":3.2e13},{"depth":"60 cm","wl":1.03,"flux":3.2e13},{"depth":"60 cm","wl":1.036,"flux":1e15},{"depth":"60 cm","wl":1.044,"flux":2.5e16},{"depth":"60 cm","wl":1.051,"flux":2.2e17},{"depth":"60 cm","wl":1.06,"flux":7.9e17},{"depth":"60 cm","wl":1.068,"flux":1.1e18},{"depth":"60 cm","wl":1.076,"flux":1e18},{"depth":"60 cm","wl":1.086,"flux":3.5e17},{"depth":"60 cm","wl":1.094,"flux":7.9e16},{"depth":"60 cm","wl":1.101,"flux":1.3e16},{"depth":"60 cm","wl":1.111,"flux":1e15},{"depth":"60 cm","wl":1.117,"flux":3.2e13},
{"depth":"80 cm","wl":0.696,"flux":1.4e21},{"depth":"80 cm","wl":0.705,"flux":5.0e20},{"depth":"80 cm","wl":0.711,"flux":2.0e20},{"depth":"80 cm","wl":0.72,"flux":3.2e20},{"depth":"80 cm","wl":0.731,"flux":4.0e20},{"depth":"80 cm","wl":0.746,"flux":2.5e20},{"depth":"80 cm","wl":0.766,"flux":3.5e20},{"depth":"80 cm","wl":0.786,"flux":5.0e20},{"depth":"80 cm","wl":0.806,"flux":7.9e20},{"depth":"80 cm","wl":0.815,"flux":5.0e20},{"depth":"80 cm","wl":0.83,"flux":1.6e20},{"depth":"80 cm","wl":0.846,"flux":6.3e19},{"depth":"80 cm","wl":0.866,"flux":2.0e19},{"depth":"80 cm","wl":0.886,"flux":7.1e18},{"depth":"80 cm","wl":0.896,"flux":2.0e18},{"depth":"80 cm","wl":0.906,"flux":2.2e17},{"depth":"80 cm","wl":0.912,"flux":2.0e16},{"depth":"80 cm","wl":0.916,"flux":1e15},{"depth":"80 cm","wl":0.92,"flux":3.2e13},{"depth":"80 cm","wl":1.05,"flux":3.2e13},{"depth":"80 cm","wl":1.056,"flux":1e15},{"depth":"80 cm","wl":1.062,"flux":2.0e16},{"depth":"80 cm","wl":1.068,"flux":6.3e16},{"depth":"80 cm","wl":1.076,"flux":5.0e16},{"depth":"80 cm","wl":1.082,"flux":1e16},{"depth":"80 cm","wl":1.088,"flux":1e15},{"depth":"80 cm","wl":1.094,"flux":3.2e13},
{"depth":"100 cm","wl":0.696,"flux":1.4e21},{"depth":"100 cm","wl":0.705,"flux":4.0e20},{"depth":"100 cm","wl":0.711,"flux":1.3e20},{"depth":"100 cm","wl":0.72,"flux":2.0e20},{"depth":"100 cm","wl":0.731,"flux":2.5e20},{"depth":"100 cm","wl":0.746,"flux":1.6e20},{"depth":"100 cm","wl":0.766,"flux":2.0e20},{"depth":"100 cm","wl":0.786,"flux":3.2e20},{"depth":"100 cm","wl":0.806,"flux":5.6e20},{"depth":"100 cm","wl":0.815,"flux":2.5e20},{"depth":"100 cm","wl":0.83,"flux":6.3e19},{"depth":"100 cm","wl":0.846,"flux":1.6e19},{"depth":"100 cm","wl":0.866,"flux":3.2e18},{"depth":"100 cm","wl":0.886,"flux":8.9e17},{"depth":"100 cm","wl":0.896,"flux":1.6e17},{"depth":"100 cm","wl":0.906,"flux":1.3e16},{"depth":"100 cm","wl":0.911,"flux":1e15},{"depth":"100 cm","wl":0.915,"flux":3.2e13},{"depth":"100 cm","wl":1.055,"flux":3.2e13},{"depth":"100 cm","wl":1.062,"flux":1e15},{"depth":"100 cm","wl":1.07,"flux":4.5e15},{"depth":"100 cm","wl":1.078,"flux":2.5e15},{"depth":"100 cm","wl":1.084,"flux":1e15},{"depth":"100 cm","wl":1.09,"flux":3.2e13}
],
"labels": [{"wl": 0.275, "flux": 1.8e21, "text": "M5V"}]
},
"vconcat": [
{
 "width": 562, "height": 372,
 "title": {"text": "a)", "dx": -166, "dy": 30},
 "data": {"name": "a"},
 "mark": {"type": "line", "strokeWidth": 1.6},
 "encoding": {
  "x": {"field": "wl", "type": "quantitative", "scale": {"domain": [0.2, 1.888], "nice": false, "zero": false},
        "axis": {"values": [0.2,0.4,0.6,0.8,1,1.2,1.4,1.6,1.8], "format": "~g", "title": "wavlength (microns)", "labelPadding": 18, "titlePadding": 11}},
  "y": {"field": "flux", "type": "quantitative", "scale": {"domain": [2e15, 7e21], "nice": false, "zero": false},
        "axis": {"values": [2e15,1e21,2e21,3e21,4e21,5e21,6e21,7e21], "labelExpr": "datum.value < 1e18 ? '2.E+15' : round(datum.value / 1e21) + '.E+21'", "title": "photons/m²/s/micron", "labelPadding": 15, "titlePadding": 25}},
  "color": {"field": "star", "type": "nominal",
        "scale": {"domain": ["F2V O2x1e-05, 5 cm","Earth, 5 cm","K2V O2x1e-05, 5 cm","M1V3650 O2x1e-05, 5 cm","AD Leo 1PAL, 5 cm","M5V3100 O2x1e-05, 5 cm"],
                  "range": ["#e5352b","#f7a823","#2f3393","#7b5db9","#e83a8c","#4cb84b"]},
        "legend": {"orient": "none", "legendX": 229, "legendY": 14, "title": null, "symbolType": "stroke", "symbolSize": 900, "symbolStrokeWidth": 2, "labelFontSize": 26.5, "labelOffset": 5, "rowPadding": 1.5}}
 }
},
{
 "width": 562, "height": 376,
 "title": {"text": "b)", "dx": -161, "dy": 30},
 "layer": [
  {
   "data": {"name": "b"},
   "mark": {"type": "line", "strokeWidth": 1.5, "clip": true},
   "encoding": {
    "x": {"field": "wl", "type": "quantitative", "scale": {"domain": [0.2, 1.888], "nice": false, "zero": false},
          "axis": {"values": [0.2,0.4,0.6,0.8,1,1.2,1.4,1.6,1.8], "format": "~g", "title": "wavlength (microns)", "labelPadding": 18, "titlePadding": 10}},
    "y": {"field": "flux", "type": "quantitative", "scale": {"type": "log", "domain": [1e15, 1e22], "nice": false},
          "axis": {"values": [1e15,1e16,1e17,1e18,1e19,1e20,1e21,1e22], "labelExpr": "'1.E+' + round(log(datum.value) / LN10)", "title": "photons/m²/s/micron", "labelPadding": 15, "titlePadding": 25}},
    "color": {"field": "depth", "type": "nominal",
          "scale": {"domain": ["0 cm","5 cm","20 cm","40 cm","60 cm","80 cm","100 cm"], "range": ["#000000","#3db54a","#2b2b2b","#6b6bb5","#8f8a8a","#b8b8b8","#a8a8a8"]},
          "legend": {"orient": "none", "legendX": 418, "legendY": 23, "title": null, "symbolType": "M-1.6,0H1.6", "symbolSize": 900, "symbolStrokeWidth": 1.5, "labelFontSize": 27.5, "labelOffset": 12, "rowPadding": 2}},
    "strokeDash": {"field": "depth", "type": "nominal",
          "scale": {"domain": ["0 cm","5 cm","20 cm","40 cm","60 cm","80 cm","100 cm"], "range": [[1,0],[1,0],[1,0],[1,0],[1,0],[2,2],[4,3]]},
          "legend": {"orient": "none", "legendX": 418, "legendY": 23, "title": null, "symbolType": "M-1.6,0H1.6", "symbolSize": 900, "symbolStrokeWidth": 1.5, "labelFontSize": 27.5, "labelOffset": 12, "rowPadding": 2}}
   }
  },
  {
   "data": {"name": "labels"},
   "mark": {"type": "text", "fontSize": 27, "align": "left", "baseline": "middle", "color": "#111111"},
   "encoding": {
    "x": {"field": "wl", "type": "quantitative"},
    "y": {"field": "flux", "type": "quantitative", "scale": {"type": "log"}},
    "text": {"field": "text"}
   }
  }
 ]
}
]
}
